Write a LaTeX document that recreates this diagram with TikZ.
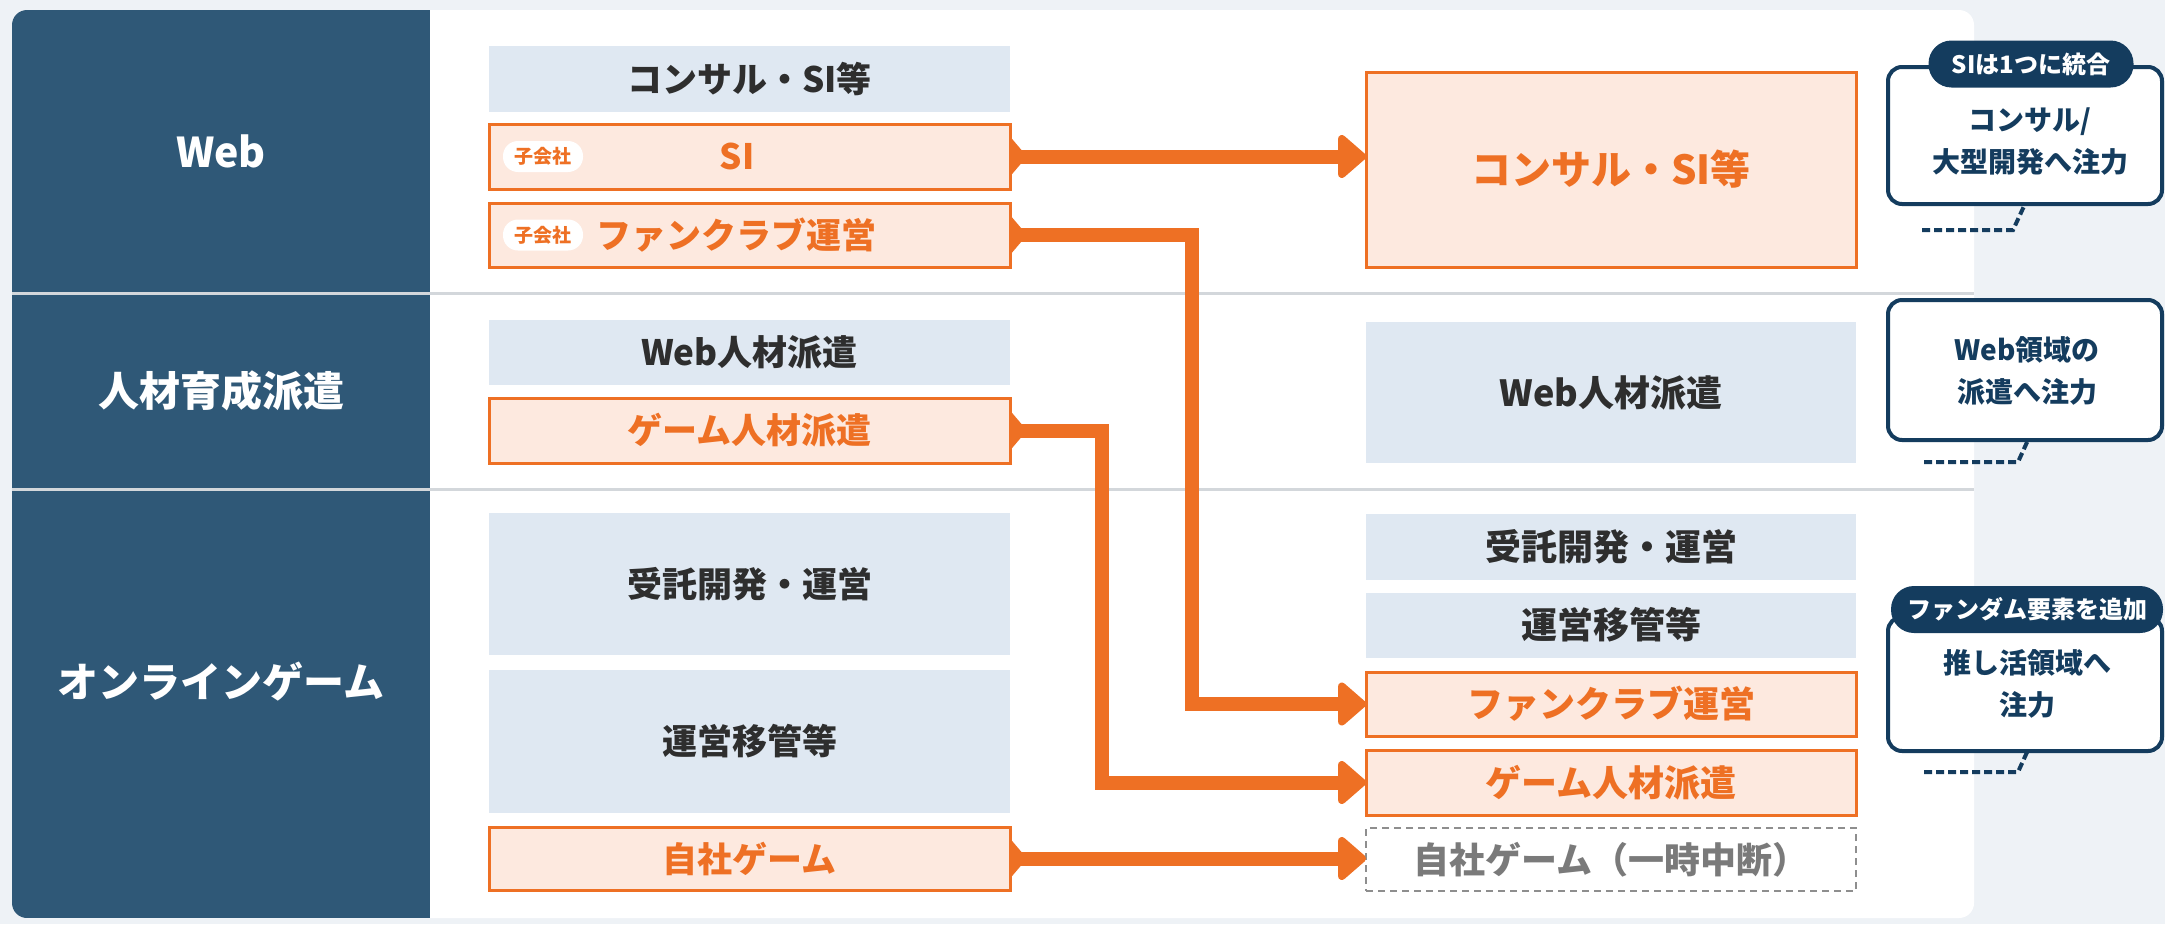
\documentclass[tikz,border=0pt]{standalone}
\usepackage{fontspec}
\setmainfont{Noto Sans CJK JP}
\usetikzlibrary{arrows.meta,calc}
\definecolor{bgc}{HTML}{EEF2F6}
\definecolor{darkcol}{HTML}{2F5877}
\definecolor{lblue}{HTML}{DFE8F2}
\definecolor{orng}{HTML}{EE7024}
\definecolor{orfill}{HTML}{FDE9DF}
\definecolor{txtdark}{HTML}{2E2E2E}
\definecolor{navy}{HTML}{143C5E}
\definecolor{divc}{HTML}{D3D7DB}
\definecolor{grayt}{HTML}{7A7A7A}
\definecolor{grayd}{HTML}{8E8E8E}
\tikzset{
  base/.style={minimum height=#1, inner sep=0pt, outer sep=0pt, font=\fontsize{35}{38}\selectfont\bfseries},
  lbox/.style={base=#1, minimum width=521pt},
  rbox/.style={base=#1, minimum width=490pt, font=\fontsize{36}{40}\selectfont\bfseries},
  bluebox/.style={fill=lblue, text=txtdark},
  orbox/.style={fill=orfill, draw=orng, line width=3pt, text=orng},
  dashbox/.style={draw=grayd, line width=2.5pt, dash pattern=on 7pt off 5pt, text=grayt},
  seclabel/.style={text=white, font=\fontsize{41}{46}\selectfont\bfseries},
  badge/.style={fill=white, rounded corners=15pt, minimum width=80pt, minimum height=31pt, inner sep=0pt, text=orng, font=\fontsize{19}{22}\selectfont\bfseries},
  flow/.style={draw=orng, line width=14pt, line join=miter, -{Triangle[length=30pt,width=50pt,round]}},
  callout/.style={draw=navy, fill=white, line width=4pt, rounded corners=14pt, minimum width=274pt, minimum height=#1, inner sep=0pt},
  cotext/.style={text=navy, align=center, font=\fontsize{28}{42}\selectfont\bfseries},
  pill/.style={fill=navy, rounded corners=23pt, minimum height=47pt, minimum width=#1, inner sep=0pt, text=white, font=\fontsize{24}{26}\selectfont\bfseries},
  leader/.style={draw=navy, line width=4pt, dash pattern=on 8pt off 4pt}
}
\begin{document}
\begin{tikzpicture}[x=1pt,y=-1pt]
\useasboundingbox (0,0) rectangle (2165,924);
\fill[bgc] (0,0) rectangle (2165,924);
\fill[white, rounded corners=15pt] (12,10) rectangle (1974,918);
\begin{scope}
\clip[rounded corners=15pt] (12,10) rectangle (1974,918);
\fill[darkcol] (12,10) rectangle (430,918);
\end{scope}
\draw[divc, line width=3pt] (12,293) -- (1974,293);
\draw[divc, line width=3pt] (12,489) -- (1974,489);

% section labels
\node[seclabel] (sWeb) at (221,151) {Web};
\node[seclabel] (sJin) at (221,391) {人材育成派遣};
\node[seclabel] (sOnl) at (221,682) {オンラインゲーム};

% left boxes
\node[lbox=66pt, bluebox] (cL) at (749.5,79) {コンサル・SI等};
\node[lbox=65pt, orbox] (siL) at (749.5,156.5) {};
\node[lbox=64pt, orbox] (fanL) at (749.5,235) {};
\node[lbox=65pt, bluebox] (webL) at (749.5,352.5) {Web人材派遣};
\node[lbox=65pt, orbox] (gameL) at (749.5,430.5) {ゲーム人材派遣};
\node[lbox=142pt, bluebox] (jutakuL) at (749.5,584) {受託開発・運営};
\node[lbox=143pt, bluebox] (uneiL) at (749.5,741.5) {運営移管等};
\node[lbox=63pt, orbox] (jishaL) at (749.5,858.5) {自社ゲーム};

\node[text=orng, font=\fontsize{35}{38}\selectfont\bfseries] (siT) at (737,156.5) {SI};
\node[text=orng, font=\fontsize{35}{38}\selectfont\bfseries] (fanT) at (736,235) {ファンクラブ運営};
\node[badge] (b1) at (543,156.5) {子会社};
\node[badge] (b2) at (543,235) {子会社};

% right boxes
\node[rbox=195pt, orbox, font=\fontsize{40}{44}\selectfont\bfseries] (consR) at (1611,169.5) {コンサル・SI等};
\node[rbox=141pt, bluebox] (webR) at (1611,392.5) {Web人材派遣};
\node[rbox=66pt, bluebox] (jutakuR) at (1611,546.5) {受託開発・運営};
\node[rbox=65pt, bluebox] (uneiR) at (1611,625) {運営移管等};
\node[rbox=64pt, orbox] (fanR) at (1611,704) {ファンクラブ運営};
\node[rbox=65pt, orbox] (gameR) at (1611,782.5) {ゲーム人材派遣};
\node[rbox=63pt, dashbox] (jishaR) at (1611,859.5) {自社ゲーム（一時中断）};

% flows
\coordinate (k1) at (1192,704);
\coordinate (k2) at (1102,782.5);
\draw[flow] (siL.east) -- (siL.east -| consR.west);
\draw[flow] (fanL.east) -| (k1) -- (fanR.west);
\draw[flow] (gameL.east) -| (k2) -- (gameR.west);
\draw[flow] (jishaL.east) -- (jishaL.east -| jishaR.west);
\foreach \n in {siL,fanL,gameL,jishaL}{
  \fill[orng] ($(\n.east)+(0,-20)$) -- ($(\n.east)+(17,0)$) -- ($(\n.east)+(0,20)$) -- cycle;
}

% callouts
\node[callout=137pt] (co1) at (2025,135.5) {};
\node[cotext] (co1t) at (2030,142) {コンサル/\\大型開発へ注力};
\node[pill=205pt] (p1) at (2031,64) {SIは1つに統合};
\node[callout=140pt] (co2) at (2025,370) {};
\node[cotext] (co2t) at (2027,370.5) {Web領域の\\派遣へ注力};
\node[callout=134pt] (co3) at (2025,684) {};
\node[cotext] (co3t) at (2027,684) {推し活領域へ\\注力};
\node[pill=272pt] (p3) at (2027,609.5) {ファンダム要素を追加};

\coordinate (l1a) at (1922,230);
\coordinate (l1b) at (2013,230);
\draw[leader] (l1a) -- (l1b) -- (2025,204);
\coordinate (l2a) at (1924,462);
\coordinate (l2b) at (2018,462);
\draw[leader] (l2a) -- (l2b) -- (2028,440);
\coordinate (l3a) at (1924,772);
\coordinate (l3b) at (2018,772);
\draw[leader] (l3a) -- (l3b) -- (2028,750);
\end{tikzpicture}
\end{document}
